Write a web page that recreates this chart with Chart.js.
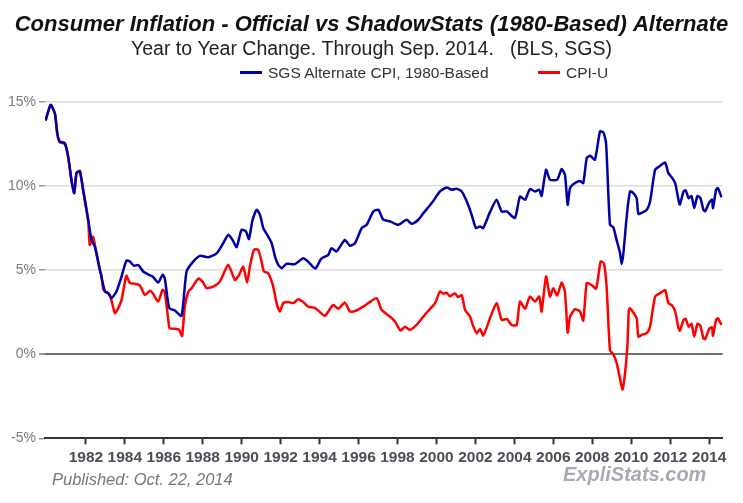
<!DOCTYPE html>
<html>
<head>
<meta charset="utf-8">
<script src="https://cdn.jsdelivr.net/npm/chart.js@4/dist/chart.umd.min.js"></script>
<style>
  body { margin: 0; background: #fff; }
  #wrap { position: relative; width: 743px; height: 503px; font-family: "Liberation Sans", Arial, sans-serif; }
  #chart { position: absolute; left: 0; top: 0; }
  .leg { position: absolute; top: 64px; font-size: 15.5px; color: #333; white-space: nowrap; line-height: 18px; }
  .leg i { display: inline-block; width: 22px; height: 3px; vertical-align: middle; margin-right: 6px; position: relative; top: -1px; }
  #pub { position: absolute; left: 52px; top: 470px; font-size: 16.5px; font-style: italic; color: #777; }
  #site { position: absolute; left: 563px; top: 463px; font-size: 20px; font-weight: bold; font-style: italic; color: #a9a9b3; }
</style>
</head>
<body>
<div id="wrap">
  <canvas id="chart" width="743" height="503"></canvas>
  <div class="leg" style="left:240px"><i style="background:#0000a8"></i>SGS Alternate CPI, 1980-Based</div>
  <div class="leg" style="left:538px"><i style="background:#ff0000"></i>CPI-U</div>
  <div id="pub">Published: Oct. 22, 2014</div>
  <div id="site">ExpliStats.com</div>
</div>
<script>
// Year-on-year change, % (decimal years)
const sgsYears = [
  1979.93, 1980.19, 1980.41, 1980.53, 1980.66, 1980.92, 1981.09, 1981.26, 1981.40, 1981.52,
  1981.69, 1981.86, 1982.12, 1982.29, 1982.46, 1982.72, 1982.98, 1983.15, 1983.31, 1983.57,
  1983.83, 1984.08, 1984.26, 1984.47, 1984.69, 1984.94, 1985.24, 1985.43, 1985.71, 1985.94,
  1986.05, 1986.28, 1986.57, 1986.91, 1987.17, 1987.51, 1987.86, 1988.28, 1988.71, 1989.05,
  1989.31, 1989.53, 1989.74, 1989.99, 1990.22, 1990.37, 1990.56, 1990.77, 1990.94, 1991.11,
  1991.31, 1991.54, 1991.71, 1991.88, 1992.05, 1992.30, 1992.73, 1993.16, 1993.41, 1993.67,
  1993.80, 1994.10, 1994.44, 1994.61, 1994.87, 1995.30, 1995.56, 1995.82, 1996.16, 1996.42,
  1996.76, 1997.02, 1997.27, 1997.62, 1998.04, 1998.47, 1998.73, 1999.07, 1999.33, 1999.76,
  2000.18, 2000.52, 2000.79, 2001.04, 2001.30, 2001.56, 2001.81, 2002.03, 2002.24, 2002.40,
  2002.75, 2003.09, 2003.35, 2003.61, 2004.03, 2004.29, 2004.55, 2004.80, 2005.06, 2005.28,
  2005.40, 2005.63, 2005.83, 2006.20, 2006.43, 2006.60, 2006.74, 2006.86, 2007.12, 2007.37,
  2007.54, 2007.72, 2007.90, 2008.14, 2008.40, 2008.57, 2008.71, 2008.91, 2009.08, 2009.25,
  2009.43, 2009.51, 2009.60, 2009.77, 2009.94, 2010.10, 2010.28, 2010.37, 2010.54, 2010.80,
  2010.97, 2011.23, 2011.48, 2011.74, 2011.91, 2012.10, 2012.26, 2012.43, 2012.50, 2012.69,
  2012.80, 2012.95, 2013.10, 2013.24, 2013.40, 2013.55, 2013.71, 2013.80, 2014.00, 2014.15,
  2014.20, 2014.36, 2014.45, 2014.64
];
const sgsValues = [
  13.9, 14.84, 14.3, 13.15, 12.65, 12.56, 11.76, 10.37, 9.58, 10.77,
  10.87, 9.78, 8.0, 6.8, 6.4, 5.0, 3.73, 3.63, 3.33, 3.73,
  4.62, 5.57, 5.51, 5.26, 5.31, 4.92, 4.72, 4.62, 4.26, 4.72,
  4.52, 2.74, 2.6, 2.28, 4.92, 5.51, 5.85, 5.77, 6.0, 6.6,
  7.1, 6.8, 6.37, 7.4, 7.3, 6.85, 8.0, 8.59, 8.29, 7.5,
  7.1, 6.6, 5.81, 5.32, 5.12, 5.37, 5.36, 5.71, 5.51, 5.18,
  5.1, 5.7, 5.9, 6.31, 6.11, 6.8, 6.45, 6.6, 7.5, 7.7,
  8.49, 8.59, 8.0, 7.9, 7.7, 8.0, 7.76, 8.0, 8.39, 8.99,
  9.68, 9.92, 9.78, 9.84, 9.68, 9.08, 8.29, 7.5, 7.6, 7.5,
  8.45, 9.18, 8.49, 8.49, 8.1, 9.38, 9.18, 9.82, 9.68, 9.78,
  9.42, 10.97, 10.38, 10.38, 11.01, 10.67, 8.89, 9.88, 10.18, 10.3,
  10.18, 11.67, 11.8, 11.57, 13.25, 13.2, 12.56, 7.7, 7.56, 6.8,
  6.01, 5.37, 6.0, 8.19, 9.68, 9.6, 9.28, 8.35, 8.4, 8.59,
  9.08, 10.97, 11.2, 11.4, 10.77, 10.5, 10.18, 9.18, 8.9, 9.68,
  9.75, 9.28, 9.4, 8.69, 9.4, 9.3, 8.59, 8.5, 9.0, 9.2,
  8.69, 9.78, 9.88, 9.34
];

const cpiYears = [
  1979.93, 1980.19, 1980.41, 1980.53, 1980.66, 1980.92, 1981.09, 1981.26, 1981.40, 1981.52,
  1981.69, 1981.86, 1982.12, 1982.20, 1982.37, 1982.46, 1982.72, 1982.80, 1982.90, 1983.23,
  1983.49, 1983.66, 1983.83, 1984.08, 1984.26, 1984.50, 1984.77, 1985.03, 1985.29, 1985.45,
  1985.71, 1985.94, 1986.05, 1986.25, 1986.30, 1986.65, 1986.79, 1986.94, 1987.08, 1987.26,
  1987.43, 1987.77, 1988.00, 1988.20, 1988.54, 1988.88, 1989.31, 1989.65, 1989.87, 1990.08,
  1990.28, 1990.42, 1990.63, 1990.85, 1991.02, 1991.14, 1991.36, 1991.62, 1991.79, 1991.96,
  1992.13, 1992.40, 1992.65, 1992.90, 1993.16, 1993.41, 1993.76, 1994.02, 1994.27, 1994.70,
  1994.96, 1995.30, 1995.56, 1995.90, 1996.24, 1996.50, 1996.93, 1997.18, 1997.61, 1997.87,
  1998.16, 1998.38, 1998.64, 1998.98, 1999.33, 1999.63, 1999.93, 2000.18, 2000.35, 2000.52,
  2000.70, 2000.95, 2001.10, 2001.30, 2001.47, 2001.72, 2001.90, 2002.07, 2002.24, 2002.40,
  2002.57, 2002.75, 2003.09, 2003.35, 2003.61, 2003.86, 2004.12, 2004.29, 2004.55, 2004.80,
  2005.06, 2005.28, 2005.40, 2005.63, 2005.83, 2006.00, 2006.20, 2006.43, 2006.60, 2006.74,
  2006.86, 2007.12, 2007.37, 2007.54, 2007.72, 2007.98, 2008.20, 2008.43, 2008.60, 2008.74,
  2008.91, 2009.08, 2009.25, 2009.40, 2009.55, 2009.65, 2009.80, 2009.88, 2009.94, 2010.10,
  2010.28, 2010.37, 2010.54, 2010.80, 2010.97, 2011.23, 2011.48, 2011.74, 2011.91, 2012.10,
  2012.26, 2012.43, 2012.50, 2012.69, 2012.80, 2012.95, 2013.10, 2013.24, 2013.40, 2013.55,
  2013.71, 2013.80, 2014.00, 2014.15, 2014.20, 2014.36, 2014.45, 2014.64
];
const cpiValues = [
  13.9, 14.8, 14.3, 13.1, 12.6, 12.5, 11.7, 10.3, 9.6, 10.8,
  10.9, 9.7, 7.9, 6.5, 7.0, 6.5, 5.0, 4.72, 3.83, 3.53,
  2.44, 2.74, 3.23, 4.66, 4.23, 4.2, 4.1, 3.53, 3.77, 3.6,
  3.13, 3.83, 3.7, 1.85, 1.55, 1.5, 1.45, 1.09, 2.83, 3.73,
  3.93, 4.5, 4.3, 3.93, 4.02, 4.32, 5.32, 4.42, 4.72, 5.21,
  4.26, 5.21, 6.21, 6.21, 5.51, 4.92, 4.82, 4.02, 3.04, 2.54,
  3.04, 3.1, 3.04, 3.27, 3.1, 2.83, 2.75, 2.5, 2.28, 2.93,
  2.7, 3.07, 2.54, 2.6, 2.83, 3.04, 3.33, 2.64, 2.24, 1.94,
  1.41, 1.64, 1.45, 1.74, 2.24, 2.64, 3.04, 3.73, 3.6, 3.65,
  3.45, 3.63, 3.4, 3.5, 2.64, 2.24, 1.64, 1.25, 1.5, 1.1,
  1.55, 2.14, 3.04, 2.04, 2.1, 1.74, 1.74, 3.13, 2.7, 3.43,
  3.13, 3.43, 2.54, 4.62, 3.43, 3.93, 3.5, 4.26, 3.7, 1.29,
  2.24, 2.68, 2.54, 2.0, 4.23, 4.1, 3.9, 5.51, 5.4, 4.0,
  0.25, 0.0, -0.5, -1.3, -2.1, -1.5, 0.4, 2.64, 2.73, 2.5,
  2.14, 1.05, 1.15, 1.25, 1.64, 3.43, 3.63, 3.83, 3.04, 2.9,
  2.54, 1.55, 1.4, 2.04, 2.1, 1.64, 1.8, 1.05, 1.8, 1.7,
  0.95, 0.9, 1.5, 1.6, 1.1, 2.04, 2.14, 1.74
];

const yearTicks = [1982, 1984, 1986, 1988, 1990, 1992, 1994, 1996, 1998, 2000, 2002, 2004, 2006, 2008, 2010, 2012, 2014];
const pctTicks = [-5, 0, 5, 10, 15];

function toPoints(xs, ys) {
  return xs.map((x, i) => ({ x: x, y: ys[i] }));
}

const FONT = "'Liberation Sans', Arial, sans-serif";

new Chart(document.getElementById("chart"), {
  type: "line",
  data: {
    datasets: [
      {
        label: "SGS Alternate CPI, 1980-Based",
        data: toPoints(sgsYears, sgsValues),
        borderColor: "#0000a8",
        borderWidth: 2.5,
        pointRadius: 0,
        tension: 0.2
      },
      {
        label: "CPI-U",
        data: toPoints(cpiYears, cpiValues),
        borderColor: "#ff0000",
        borderWidth: 2.5,
        pointRadius: 0,
        tension: 0.2
      }
    ]
  },
  options: {
    responsive: false,
    animation: false,
    layout: { padding: 0 },
    plugins: {
      legend: { display: false },
      tooltip: { enabled: false },
      title: {
        display: true,
        text: "Consumer Inflation - Official vs ShadowStats (1980-Based) Alternate",
        color: "#111",
        font: { family: FONT, size: 22, weight: "bold", style: "italic", lineHeight: 1.2 },
        padding: { top: 11.8, bottom: 0 }
      },
      subtitle: {
        display: true,
        text: "Year to Year Change. Through Sep. 2014.   (BLS, SGS)",
        color: "#222",
        font: { family: FONT, size: 19.5, lineHeight: 1.2 },
        padding: { top: 0.1, bottom: 40.3 }
      }
    },
    scales: {
      x: {
        type: "linear",
        min: 1979.9,
        max: 2014.7,
        afterBuildTicks: (scale) => { scale.ticks = yearTicks.map(v => ({ value: v })); },
        afterFit: (scale) => { scale.height = 64.7; },
        ticks: {
          callback: (v) => String(v),
          autoSkip: false,
          maxRotation: 0,
          padding: 4,
          color: "#4c4c56",
          font: { family: FONT, size: 15.5, weight: "bold" }
        },
        grid: { drawOnChartArea: false, drawTicks: true, tickLength: 6, tickColor: "#333", tickWidth: 2 },
        border: { display: true, color: "#333", width: 2 }
      },
      y: {
        min: -5,
        max: 15,
        afterBuildTicks: (scale) => { scale.ticks = pctTicks.map(v => ({ value: v })); },
        afterFit: (scale) => { scale.width = 45; },
        ticks: {
          callback: (v) => v + "%",
          padding: 3,
          color: "#7a7a84",
          font: { family: FONT, size: 14 }
        },
        grid: {
          color: (ctx) => ctx.tick.value === 0 ? "#707070" : (ctx.tick.value === -5 ? "rgba(0,0,0,0)" : "#dcdcdc"),
          lineWidth: (ctx) => ctx.tick.value === 0 ? 2 : 1.5,
          tickColor: "#999",
          tickLength: 6
        },
        border: { display: false }
      },
      // empty right-hand axis: only reserves the right margin, so the titles stay centred on the page
      margin: {
        position: "right",
        afterFit: (scale) => { scale.width = 20.3; },
        ticks: { display: false },
        grid: { display: false },
        border: { display: false }
      }
    }
  }
});
</script>
</body>
</html>
